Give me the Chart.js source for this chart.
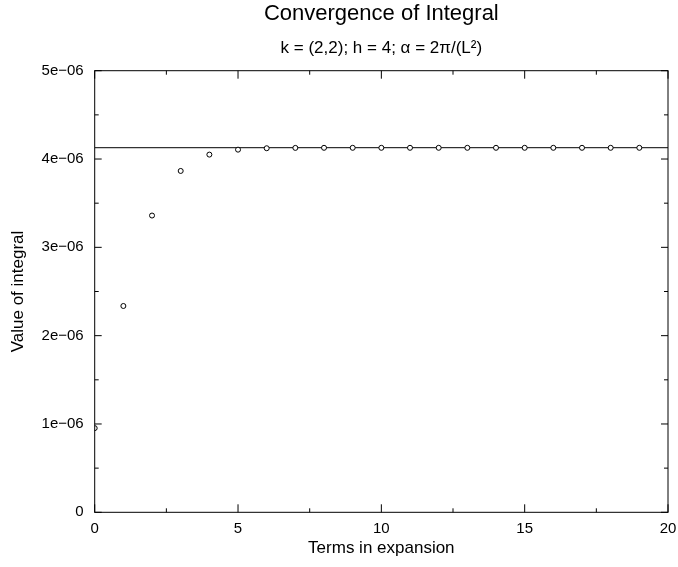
<!DOCTYPE html>
<html>
<head>
<meta charset="utf-8">
<script src="https://cdn.jsdelivr.net/npm/chart.js@4/dist/chart.umd.min.js"></script>
<style>
  html, body { margin: 0; padding: 0; background: #fff; }
  canvas { display: block; }
</style>
</head>
<body>
<canvas id="chart" width="678" height="567"></canvas>
<script>
// data
const terms = [0, 1, 2, 3, 4, 5, 6, 7, 8, 9, 10, 11, 12, 13, 14, 15, 16, 17, 18, 19];
const integralValues = [
  0.953e-6, 2.336e-6, 3.360e-6, 3.865e-6, 4.050e-6, 4.106e-6, 4.122e-6, 4.126e-6,
  4.127e-6, 4.127e-6, 4.127e-6, 4.127e-6, 4.127e-6, 4.127e-6, 4.127e-6, 4.127e-6,
  4.127e-6, 4.127e-6, 4.127e-6, 4.127e-6
];
const limitValue = 4.128e-6;
const limitRange = [0, 20];
const xTickLabels = ['0', '5', '10', '15', '20'];
const yTickLabels = ['0', '1e\u221206', '2e\u221206', '3e\u221206', '4e\u221206', '5e\u221206'];

const FONT = "'Liberation Sans', Arial, sans-serif";

// centre the title and subtitle over the plot, not the whole canvas
const centerTitles = {
  id: 'centerTitles',
  afterLayout(chart) {
    chart.boxes.forEach(b => {
      if (b.position === 'top' && b.fullSize) {
        b.left = chart.chartArea.left;
        b.right = chart.chartArea.right;
      }
    });
  }
};

// box round the plot with inward ticks on all four sides
const framePlugin = {
  id: 'frame',
  afterDatasetsDraw(chart) {
    const { ctx, chartArea: a, scales } = chart;
    const xs = scales.x, ys = scales.y;
    ctx.save();
    ctx.strokeStyle = '#000';
    ctx.lineWidth = 1;
    ctx.strokeRect(a.left, a.top, a.right - a.left, a.bottom - a.top);
    ctx.beginPath();
    for (let v = 0; v <= 20; v += 2.5) {
      const px = xs.getPixelForValue(v);
      const len = v % 5 === 0 ? 8 : 4;
      ctx.moveTo(px, a.bottom); ctx.lineTo(px, a.bottom - len);
      ctx.moveTo(px, a.top); ctx.lineTo(px, a.top + len);
    }
    for (let i = 0; i <= 10; i++) {
      const py = ys.getPixelForValue(i * 0.5e-6);
      const len = i % 2 === 0 ? 7 : 4;
      ctx.moveTo(a.left, py); ctx.lineTo(a.left + len, py);
      ctx.moveTo(a.right, py); ctx.lineTo(a.right - len, py);
    }
    ctx.stroke();
    ctx.restore();
  }
};

new Chart(document.getElementById('chart'), {
  type: 'scatter',
  data: {
    datasets: [
      {
        label: 'limit',
        data: limitRange.map(x => ({ x: x, y: limitValue })),
        showLine: true,
        borderColor: '#000',
        borderWidth: 1,
        pointRadius: 0,
        order: 2
      },
      {
        label: 'Value of integral',
        data: terms.map((t, i) => ({ x: t, y: integralValues[i] })),
        pointStyle: 'circle',
        pointRadius: 2.5,
        borderColor: '#000',
        borderWidth: 1,
        backgroundColor: '#fff',
        order: 1
      }
    ]
  },
  options: {
    responsive: false,
    animation: false,
    layout: { padding: { left: 0, right: 10, top: 0, bottom: 0 } },
    plugins: {
      legend: { display: false },
      tooltip: { enabled: false },
      title: {
        display: true,
        text: 'Convergence of Integral',
        color: '#000',
        font: { family: FONT, size: 22, weight: 'normal' },
        padding: { top: 1, bottom: 0 }
      },
      subtitle: {
        display: true,
        text: 'k = (2,2); h = 4; \u03b1 = 2\u03c0/(L\u00b2)',
        color: '#000',
        font: { family: FONT, size: 17 },
        padding: { top: 10.4, bottom: 12.5 }
      }
    },
    scales: {
      x: {
        type: 'linear',
        min: 0,
        max: 20,
        afterFit(s) { s.height = 54.7; s.paddingLeft = 0; s.paddingRight = 0; },
        grid: { display: false, drawTicks: false },
        border: { display: false },
        ticks: {
          stepSize: 5,
          color: '#000',
          padding: 8,
          maxRotation: 0,
          font: { family: FONT, size: 15 },
          callback: (v, i) => xTickLabels[i]
        },
        title: {
          display: true,
          text: 'Terms in expansion',
          color: '#000',
          font: { family: FONT, size: 17 },
          padding: { top: 0, bottom: 8 }
        }
      },
      y: {
        type: 'linear',
        min: 0,
        max: 5e-6,
        afterFit(s) { s.width = 94.7; s.paddingTop = 0; s.paddingBottom = 0; },
        grid: { display: false, drawTicks: false },
        border: { display: false },
        ticks: {
          stepSize: 1e-6,
          color: '#000',
          padding: 11,
          font: { family: FONT, size: 15 },
          callback: (v, i) => yTickLabels[i]
        },
        title: {
          display: true,
          text: 'Value of integral',
          color: '#000',
          font: { family: FONT, size: 17 },
          padding: { top: 8, bottom: 0 }
        }
      }
    }
  },
  plugins: [centerTitles, framePlugin]
});
</script>
</body>
</html>
